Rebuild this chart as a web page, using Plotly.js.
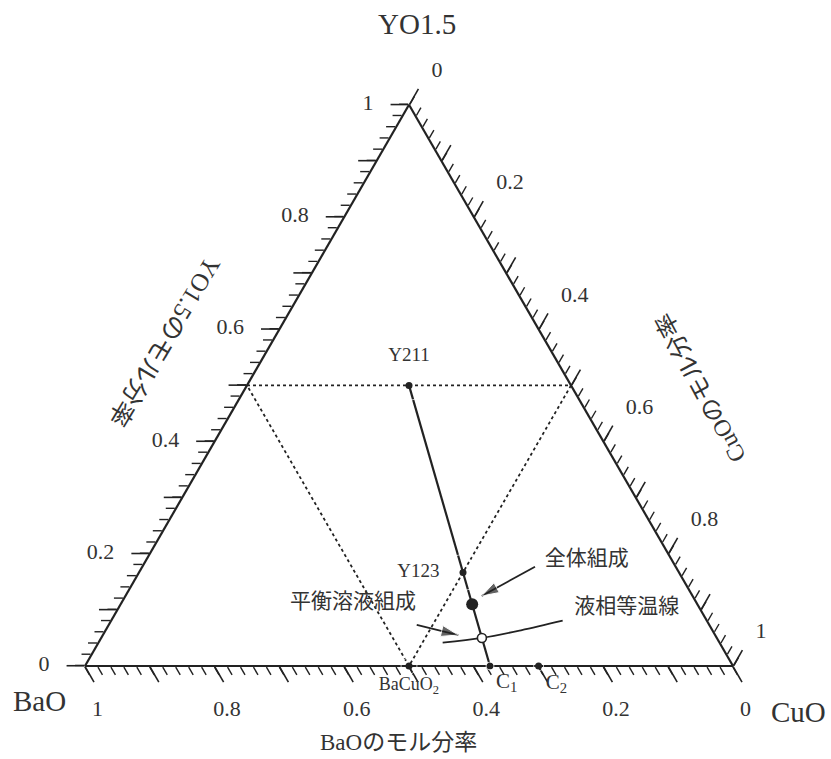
<!DOCTYPE html>
<html>
<head>
<meta charset="utf-8">
<script src="https://cdn.plot.ly/plotly-3.0.1.min.js"></script>
<style>html,body{margin:0;padding:0;background:#fff}</style>
</head>
<body>
<div id="chart" style="width:831px;height:759px"></div>
<script>
// Y-Ba-Cu-O pseudo-ternary section: mole fractions of YO1.5 (a), BaO (b), CuO (c)

// Compounds and compositions on the BaO-CuO side
const phaseNames = ['Y211', 'Y123', 'BaCuO<sub>2</sub>', 'C<sub>1</sub>', 'C<sub>2</sub>'];
const phaseYO  = [0.5, 0.1667, 0, 0, 0];
const phaseBaO = [0.25, 0.3333, 0.5, 0.375, 0.3];
const phaseCuO = [0.25, 0.5, 0.5, 0.625, 0.7];

// Tie line Y211 - C1
const tieYO  = [0.5, 0];
const tieBaO = [0.25, 0.375];
const tieCuO = [0.25, 0.625];

// Overall composition and equilibrium liquid composition
const overallComp = [0.11, 0.3475, 0.5425];
const liquidComp  = [0.05, 0.3625, 0.5875];

// Liquidus isotherm
const isoYO  = [0.0415, 0.05, 0.0636, 0.0807];
const isoBaO = [0.4273, 0.3625, 0.2954, 0.2225];
const isoCuO = [0.5312, 0.5875, 0.6410, 0.6968];

// Guide triangle through the edge midpoints
const guideYO  = [0.5, 0.5, 0, 0.5];
const guideBaO = [0.5, 0, 0.5, 0.5];
const guideCuO = [0, 0.5, 0.5, 0];

// Callout labels and their arrows (tail, tip)
const calloutText = ['全体組成', '液相等温線', '平衡溶液組成'];
const calloutYO   = [0.1901, 0.1046, 0.1123];
const calloutBaO  = [0.1308, 0.1117, 0.5302];
const calloutCuO  = [0.6791, 0.7837, 0.3575];
const arrowOverall = {a: [0.1769, 0.1247], b: [0.2171, 0.3255], c: [0.6060, 0.5498]};
const arrowLiquid  = {a: [0.0731, 0.0552], b: [0.4515, 0.3963], c: [0.4754, 0.5485]};

// Axis tick labels
const tickVals = [0, 0.1, 0.2, 0.3, 0.4, 0.5, 0.6, 0.7, 0.8, 0.9, 1];
const tickText = ['0', '', '0.2', '', '0.4', '', '0.6', '', '0.8', '', '1'];

const SERIF = "'Liberation Serif', 'Noto Sans CJK JP', serif";
const INK = '#222';
const TEXT = '#333';

const traces = [
  // dotted guide triangle
  {type: 'scatterternary', subplot: 'ternary', mode: 'lines',
   a: guideYO, b: guideBaO, c: guideCuO,
   line: {color: INK, width: 1.8, dash: 'dot'}, hoverinfo: 'skip'},
  // tie line
  {type: 'scatterternary', subplot: 'ternary2', mode: 'lines',
   a: tieYO, b: tieBaO, c: tieCuO,
   line: {color: INK, width: 2.2}, hoverinfo: 'skip'},
  // liquidus isotherm
  {type: 'scatterternary', subplot: 'ternary2', mode: 'lines',
   a: isoYO, b: isoBaO, c: isoCuO,
   line: {color: INK, width: 1.8, shape: 'spline'}, hoverinfo: 'skip'},
  // arrows
  {type: 'scatterternary', subplot: 'ternary2', mode: 'lines+markers',
   a: arrowOverall.a, b: arrowOverall.b, c: arrowOverall.c,
   line: {color: INK, width: 1.8},
   marker: {symbol: ['circle', 'arrow'], size: [0, 18], angle: [0, -119], color: INK},
   hoverinfo: 'skip'},
  {type: 'scatterternary', subplot: 'ternary2', mode: 'lines+markers',
   a: arrowLiquid.a, b: arrowLiquid.b, c: arrowLiquid.c,
   line: {color: INK, width: 1.8},
   marker: {symbol: ['circle', 'arrow'], size: [0, 18], angle: [0, 103.5], color: INK},
   hoverinfo: 'skip'},
  // compound markers
  {type: 'scatterternary', subplot: 'ternary2', mode: 'markers',
   a: phaseYO, b: phaseBaO, c: phaseCuO,
   marker: {color: INK, size: 7}, cliponaxis: false, hoverinfo: 'skip'},
  // compound labels (transparent spacer markers set the label standoff)
  {type: 'scatterternary', subplot: 'ternary3', mode: 'markers+text',
   a: phaseYO, b: phaseBaO, c: phaseCuO,
   text: phaseNames,
   textposition: ['top center', 'middle left', 'bottom center', 'bottom right', 'bottom right'],
   textfont: {family: SERIF, size: [19, 19, 18, 21, 21], color: TEXT},
   marker: {color: 'rgba(0,0,0,0)', size: [30, 36, 16, 8, 10]},
   cliponaxis: false, hoverinfo: 'skip'},
  // overall composition
  {type: 'scatterternary', subplot: 'ternary2', mode: 'markers',
   a: [overallComp[0]], b: [overallComp[1]], c: [overallComp[2]],
   marker: {color: INK, size: 12}, hoverinfo: 'skip'},
  // equilibrium liquid composition
  {type: 'scatterternary', subplot: 'ternary2', mode: 'markers',
   a: [liquidComp[0]], b: [liquidComp[1]], c: [liquidComp[2]],
   marker: {color: '#fff', size: 9, line: {color: INK, width: 1.6}}, hoverinfo: 'skip'},
  // callout labels
  {type: 'scatterternary', subplot: 'ternary3', mode: 'text',
   a: calloutYO, b: calloutBaO, c: calloutCuO,
   text: calloutText, textposition: 'middle center',
   textfont: {family: SERIF, size: 21, color: TEXT}, hoverinfo: 'skip'}
];

// minor ticks every 0.02 with the triangle frame
const minorAxis = {
  min: 0, showgrid: false, showline: true, linecolor: INK, linewidth: 2.2,
  ticks: 'outside', ticklen: 9, tickwidth: 1.4, tickcolor: INK,
  tickmode: 'linear', tick0: 0, dtick: 0.02, showticklabels: false,
  title: {text: ''}
};
// major ticks every 0.1
const majorAxis = {
  min: 0, showgrid: false, showline: false,
  ticks: 'outside', ticklen: 18, tickwidth: 1.6, tickcolor: INK,
  tickmode: 'array', tickvals: tickVals, showticklabels: false,
  title: {text: ''}
};
// tick labels every 0.2, pushed out by invisible ticks
function labelAxis(len) {
  return {
    min: 0, showgrid: false, showline: false,
    ticks: 'outside', ticklen: len, tickcolor: 'rgba(0,0,0,0)',
    tickmode: 'array', tickvals: tickVals, ticktext: tickText,
    showticklabels: true, tickfont: {family: SERIF, size: 22, color: TEXT},
    title: {text: ''}
  };
}

const dom = {x: [0.10229, 0.88207], y: [0.11223, 0.87223]};

function note(text, x, y, size, angle) {
  return {text: text, x: x, y: y, xref: 'paper', yref: 'paper', showarrow: false,
          xanchor: 'center', yanchor: 'middle', textangle: angle || 0,
          font: {family: SERIF, size: size, color: TEXT}};
}

const layout = {
  width: 831, height: 759,
  margin: {l: 0, r: 0, t: 0, b: 0},
  paper_bgcolor: '#fff',
  showlegend: false,
  ternary: {domain: dom, sum: 1, bgcolor: '#fff',
            aaxis: minorAxis, baxis: minorAxis, caxis: minorAxis},
  ternary2: {domain: dom, sum: 1, bgcolor: 'rgba(0,0,0,0)',
             aaxis: majorAxis, baxis: majorAxis, caxis: majorAxis},
  ternary3: {domain: dom, sum: 1, bgcolor: 'rgba(0,0,0,0)',
             aaxis: labelAxis(32), baxis: labelAxis(25), caxis: labelAxis(38)},
  annotations: [
    note('YO1.5', 0.5018, 0.9684, 29),
    note('BaO', 0.0481, 0.0764, 29),
    note('CuO', 0.9609, 0.0619, 29),
    note('BaOのモル分率', 0.479, 0.0211, 23),
    note('YO1.5のモル分率', 0.1986, 0.5494, 25, 121),
    note('CuOのモル分率', 0.8436, 0.4888, 24, -118)
  ]
};

Plotly.newPlot('chart', traces, layout, {staticPlot: true});
</script>
</body>
</html>
